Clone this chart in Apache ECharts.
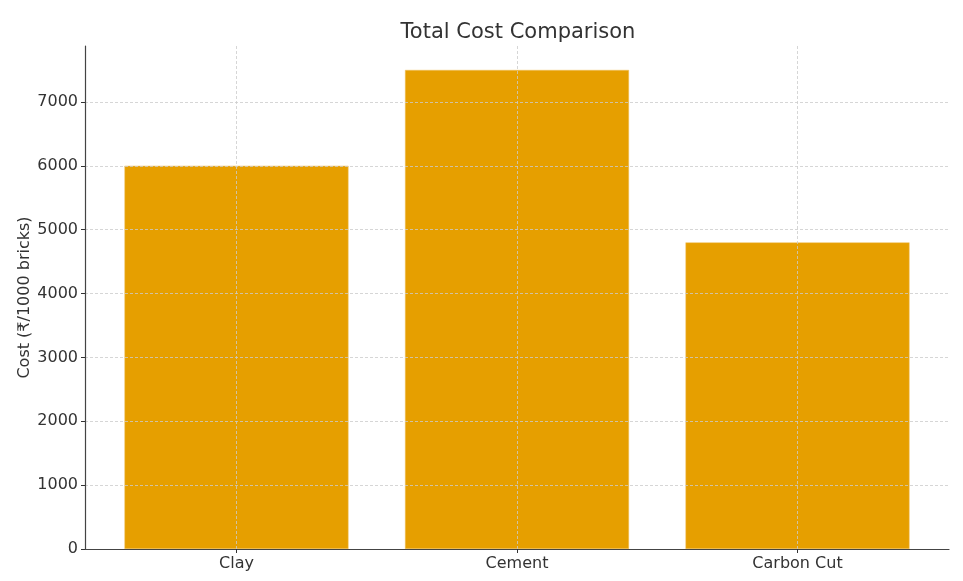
<!DOCTYPE html>
<html>
<head>
<meta charset="utf-8">
<script src="https://cdn.jsdelivr.net/npm/echarts@6/dist/echarts.min.js"></script>
<style>
  html, body { margin: 0; padding: 0; background: #fff; }
  #chart { width: 963px; height: 581px; }
</style>
</head>
<body>
<div id="chart"></div>
<script>
// Brick types and their total cost per 1000 bricks
const categories = ['Clay', 'Cement', 'Carbon Cut'];
const costs = [6000, 7500, 4800];
const yTicks = [0, 1000, 2000, 3000, 4000, 5000, 6000, 7000];

const FONT = '"DejaVu Sans", sans-serif';
const categoryIndex = categories.map((_, i) => i);

const chart = echarts.init(document.getElementById('chart'), null, { renderer: 'canvas' });

chart.setOption({
  animation: false,
  backgroundColor: '#ffffff',
  title: {
    text: 'Total Cost Comparison',
    left: 513,
    top: 17,
    textAlign: 'center',
    textStyle: { fontFamily: FONT, fontSize: 21, fontWeight: 'normal', color: '#333333' }
  },
  grid: { left: 85, right: 14, top: 46, bottom: 32, containLabel: false },
  xAxis: {
    type: 'value',
    min: -0.54,
    max: 2.54,
    z: 5,
    axisLine: { show: true, onZero: false, lineStyle: { color: '#444444', width: 1.2 } },
    axisTick: { show: true, length: 4, customValues: categoryIndex, lineStyle: { color: '#333333', width: 1 } },
    axisLabel: {
      customValues: categoryIndex,
      margin: 7,
      fontFamily: FONT, fontSize: 16, color: '#333333',
      formatter: v => categories[Math.round(v)]
    },
    splitLine: { show: true, lineStyle: { color: '#cccccc', type: [3, 2], width: 0.8 } }
  },
  yAxis: {
    type: 'value',
    min: 0,
    max: 7875,
    z: 5,
    name: 'Cost (₹/1000 bricks)',
    nameLocation: 'middle',
    nameGap: 52,
    nameMoveOverlap: false,
    nameTextStyle: { fontFamily: FONT, fontSize: 16, color: '#333333' },
    axisLine: { show: true, onZero: false, lineStyle: { color: '#444444', width: 1.2 } },
    axisTick: { show: true, length: 4, customValues: yTicks, lineStyle: { color: '#333333', width: 1 } },
    axisLabel: {
      customValues: yTicks, margin: 7,
      fontFamily: FONT, fontSize: 16, color: '#333333',
      formatter: v => String(v)
    },
    splitLine: { show: true, lineStyle: { color: '#cccccc', type: [3, 2], width: 0.8 } }
  },
  series: [{
    type: 'bar',
    data: costs.map((v, i) => [i, v]),
    barWidth: 224,
    z: 2,
    itemStyle: { color: '#E69F00', borderColor: '#f0c060', borderWidth: 0.5 }
  }]
});
</script>
</body>
</html>
